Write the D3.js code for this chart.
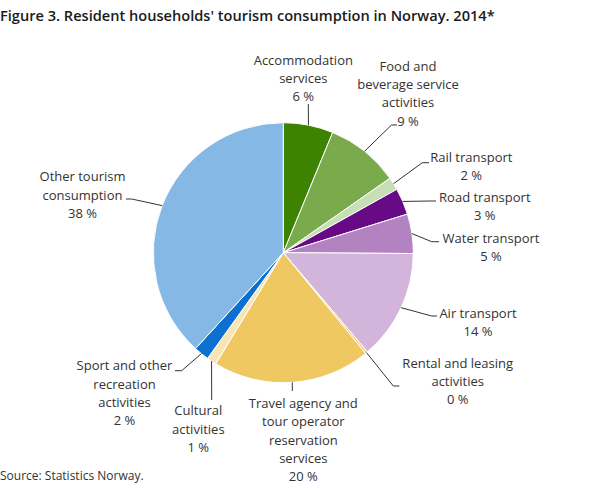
<!DOCTYPE html>
<html>
<head>
<meta charset="utf-8">
<script src="https://cdn.jsdelivr.net/npm/d3@7"></script>
<style>
  body { margin: 0; background: #fff; }
  text { font-family: "Open Sans", sans-serif; fill: #333; }
</style>
</head>
<body>
<div id="container"></div>
<script>
// data (share of total, %)
const categories = [
    "Accommodation services",
    "Food and beverage service activities",
    "Rail transport",
    "Road transport",
    "Water transport",
    "Air transport",
    "Rental and leasing activities",
    "Travel agency and tour operator reservation services",
    "Cultural activities",
    "Sport and other recreation activities",
    "Other tourism consumption"
];
const labelLines = [
    ["Accommodation", "services"],
    ["Food and", "beverage service", "activities"],
    ["Rail transport"],
    ["Road transport"],
    ["Water transport"],
    ["Air transport"],
    ["Rental and leasing", "activities"],
    ["Travel agency and", "tour operator", "reservation", "services"],
    ["Cultural", "activities"],
    ["Sport and other", "recreation", "activities"],
    ["Other tourism", "consumption"]
];
const shares = [6.2, 9.1, 1.6, 3.3, 4.9, 13.7, 0.3, 19.6, 1.2, 1.9, 38.2];
const colors = ["#3d8200", "#79ab4c", "#c8dfb5", "#680a86", "#b382c1",
                "#d3b4da", "#f2cf7a", "#efc862", "#f8e5b5", "#0b70cf", "#86b8e6"];

const titleText = "Figure 3. Resident households' tourism consumption in Norway. 2014*";
const sourceText = "Source: Statistics Norway.";

function PieChart({
    width = 609,
    height = 488,
    cx = 283.3,
    cy = 252.7,
    radius = 130,
    lineHeight = 18.4
  } = {}) {

    const svg = d3.select("#container").append("svg")
        .attr("width", width)
        .attr("height", height);

    svg.append("text")
        .attr("x", 0)
        .attr("y", 20.5)
        .style("font-size", "14.6px")
        .style("font-weight", 600)
        .style("fill", "#1a1a1a")
        .text(titleText);

    svg.append("text")
        .attr("x", 0)
        .attr("y", 480)
        .style("font-size", "12px")
        .text(sourceText);

    const data = categories.map((c, i) => ({ name: c, value: shares[i], lines: labelLines[i], color: colors[i] }));

    const pie = d3.pie().sort(null).value(d => d.value);
    const arc = d3.arc().innerRadius(0).outerRadius(radius);
    const arcs = pie(data);

    const g = svg.append("g").attr("transform", `translate(${cx},${cy})`);

    g.selectAll("path")
        .data(arcs)
        .enter().append("path")
        .attr("d", arc)
        .attr("fill", d => d.data.color)
        .attr("stroke", "#fff")
        .attr("stroke-width", 1);

    // label placement, offsets from the pie centre:
    // tx,ty = text centre / first line, path = connector points after the edge point
    const layout = [
        { tx: 20, ty: -192.7, path: [[25, -148.7]] },
        { tx: 124.7, ty: -186.7, path: [[108.2, -127.7], [113.7, -127.7]] },
        { tx: 188, ty: -95.7, path: [[139, -90], [145.7, -90]] },
        { tx: 201.5, ty: -55.7, path: [[146.7, -51.7], [152.7, -51.7]] },
        { tx: 207.7, ty: -14.7, path: [[148.4, -11], [155.7, -11]] },
        { tx: 194.7, ty: 60.3, path: [[148.4, 63.3], [153.7, 63.3]] },
        { tx: 174.4, ty: 110.3, path: [[110, 133.3], [116, 133.3]] },
        { tx: 20, ty: 150.6, path: [[9, 138.3]] },
        { tx: -85, ty: 158, path: [[-71.6, 147.3]] },
        { tx: -158.8, ty: 113, path: [[-101.6, 118], [-108.3, 118]] },
        { tx: -200.8, ty: -76, path: [[-151.6, -53.7], [-157.3, -53.7]] }
    ];

    const connector = d3.line();

    g.selectAll("path.connector")
        .data(arcs)
        .enter().append("path")
        .attr("class", "connector")
        .attr("fill", "none")
        .attr("stroke", "#333")
        .attr("stroke-width", 1)
        .attr("d", (d, i) => {
            const mid = (d.startAngle + d.endAngle) / 2;
            const edge = [radius * Math.sin(mid), -radius * Math.cos(mid)];
            return connector([edge, ...layout[i].path]);
        });

    const labels = g.selectAll("text.label")
        .data(arcs)
        .enter().append("text")
        .attr("class", "label")
        .attr("text-anchor", "middle")
        .style("font-size", "13px")
        .attr("transform", (d, i) => `translate(${layout[i].tx},${layout[i].ty + 4.6})`);

    labels.each(function(d) {
        const t = d3.select(this);
        const lines = [...d.data.lines, Math.round(d.data.value) + " %"];
        lines.forEach((line, k) => {
            t.append("tspan")
                .attr("x", 0)
                .attr("y", k * lineHeight)
                .text(line);
        });
    });
}

PieChart();
</script>
</body>
</html>
